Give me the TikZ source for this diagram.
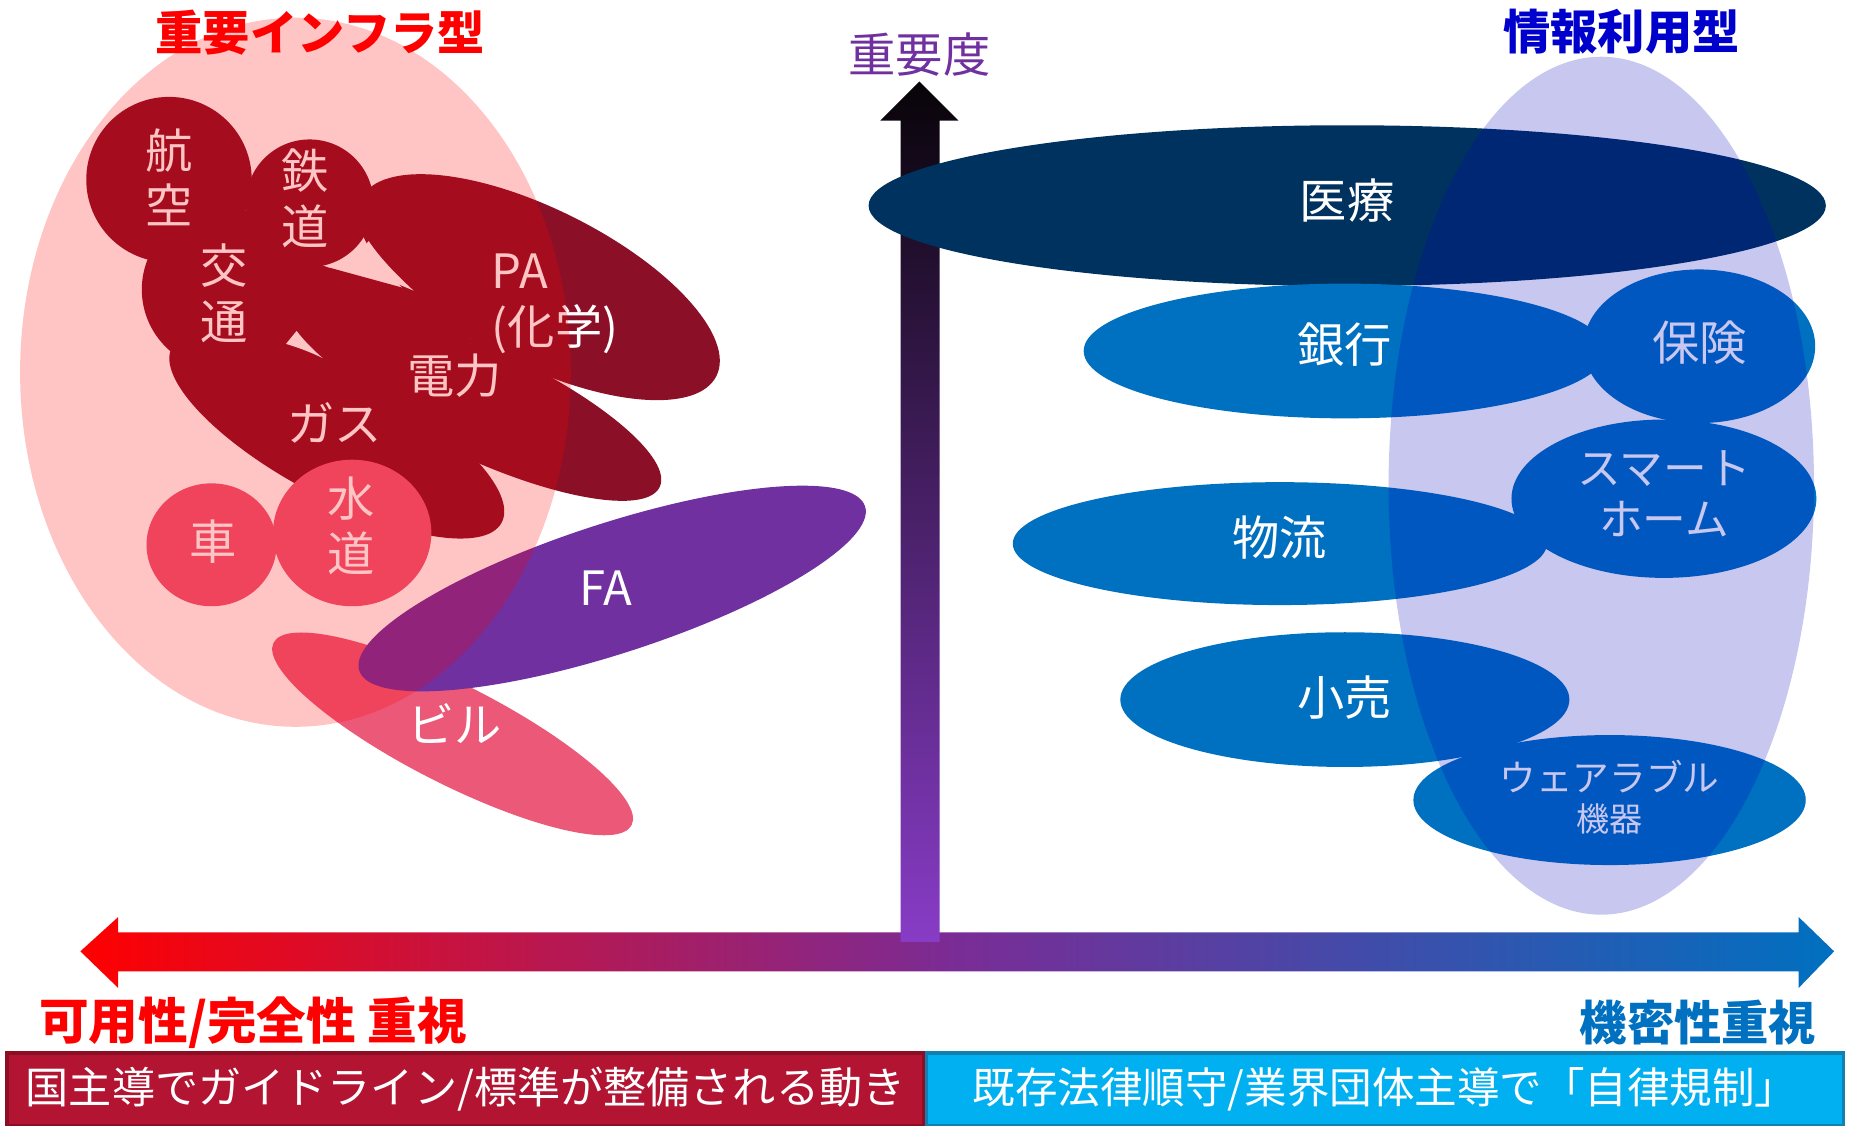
\documentclass[tikz,border=0pt]{standalone}
\usepackage{fontspec}
\setmainfont{Noto Sans CJK JP}
\definecolor{cDark}{RGB}{139,16,39}
\definecolor{cPinkBase}{RGB}{236,88,120}
\definecolor{cPurple}{RGB}{112,48,160}
\definecolor{cNavy}{RGB}{0,50,96}
\definecolor{cBlue}{RGB}{0,112,192}
\definecolor{cLav}{RGB}{0,0,188}
\definecolor{cTitleBlue}{RGB}{0,0,204}
\definecolor{cBoxL}{RGB}{178,20,50}
\definecolor{cBoxLb}{RGB}{139,14,37}
\definecolor{cBoxR}{RGB}{0,176,240}
\definecolor{cBoxRb}{RGB}{20,128,178}
\definecolor{cVtop}{RGB}{8,4,8}
\definecolor{cVbot}{RGB}{136,60,198}
\definecolor{cHmid}{RGB}{122,44,150}
\begin{document}
\begin{tikzpicture}[x=1pt,y=1pt,
  lbl/.style={text=white, inner sep=0pt, align=center, font=\fontsize{40}{47}\selectfont},
  ttl/.style={inner sep=0pt, font=\fontsize{40}{46}\selectfont\bfseries},
  boxtxt/.style={text=white, inner sep=0pt, minimum height=62pt, line width=3pt}]
\useasboundingbox (0,0) rectangle (1568,-952);
\fill[white] (0,0) rectangle (1568,-952);

% ---------- axes ----------
\shade[left color=red, right color=cBlue, middle color=cHmid]
  (68,-805) -- (100,-776) -- (100,-789) -- (1522,-789) -- (1522,-776) -- (1552,-805)
  -- (1522,-836) -- (1522,-822) -- (100,-822) -- (100,-836) -- cycle;
\shade[top color=cVtop, bottom color=cVbot]
  (762,-797) -- (762,-102) -- (745,-102) -- (778,-69) -- (811,-102) -- (795,-102) -- (795,-797) -- cycle;

% ---------- left group ----------
\fill[cDark] (143,-152) circle [radius=70pt];
\fill[cDark] (262,-172) circle [radius=54pt];
\fill[cDark] (190,-245) ellipse [x radius=70pt, y radius=69pt];
\fill[cDark, shift={(456,-243)}, rotate=-26.6] (0,0) ellipse [x radius=168pt, y radius=66pt];
\fill[cDark, shift={(406,-341)}, rotate=-25] (0,0) ellipse [x radius=168pt, y radius=47pt];
\fill[cDark, shift={(285,-368)}, rotate=-28] (0,0) ellipse [x radius=158pt, y radius=53pt];
\fill[cDark] (200,-200) -- (277,-226) -- (350,-246) -- (400,-280) -- (380,-330) -- (300,-340)
  -- (200,-320) -- (160,-280) -- cycle;
% gaps between the shapes
\fill[white] (312,-204) .. controls (302,-216) and (291,-223) .. (277,-226)
  .. controls (302,-229) and (328,-236) .. (350,-246)
  .. controls (336,-233) and (322,-219) .. (312,-204) -- cycle;
\fill[white] (251,-280) -- (242,-291) .. controls (252,-294) and (263,-298) .. (273,-303)
  .. controls (265,-296) and (257,-288) .. (251,-280) -- cycle;

\fill[cPinkBase] (179,-461) ellipse [x radius=55pt, y radius=52pt];
\fill[cPinkBase] (298,-451) ellipse [x radius=67pt, y radius=62pt];
\fill[cPinkBase, shift={(383,-621)}, rotate=-27] (0,0) ellipse [x radius=170pt, y radius=42pt];
\fill[cPurple, shift={(518,-498)}, rotate=18] (0,0) ellipse [x radius=225pt, y radius=55pt];

\node[lbl] (koku) at (143,-150) {航\\空};
\node[lbl] (tetsu) at (258,-168) {鉄\\道};
\node[lbl] (kotsu) at (190,-248) {交\\通};
\node[lbl, align=left, anchor=west] (pa) at (416,-257) {PA\\(化学)};
\node[lbl] (denryoku) at (385,-318) {電力};
\node[lbl] (gas) at (283,-358) {ガス};
\node[lbl] (kuruma) at (180,-458) {車};
\node[lbl] (suido) at (297,-445) {水\\道};
\node[lbl] (fa) at (513,-498) {FA};
\node[lbl] (biru) at (385,-612) {ビル};

\fill[red, opacity=0.23] (250,-315) ellipse [x radius=233pt, y radius=300pt];

% ---------- right group ----------
\fill[cNavy] (1140,-174) ellipse [x radius=405pt, y radius=68pt];
\fill[cBlue] (1138,-297) ellipse [x radius=221pt, y radius=57pt];
\fill[cBlue] (1438,-293) ellipse [x radius=98pt, y radius=65pt];
\fill[cBlue] (1408,-422) ellipse [x radius=129pt, y radius=67pt];
\fill[cBlue] (1083,-460) ellipse [x radius=226pt, y radius=52pt];
\fill[cBlue] (1138,-592) ellipse [x radius=190pt, y radius=57pt];
\fill[cBlue] (1362,-677) ellipse [x radius=166pt, y radius=55pt];

\node[lbl] (iryo) at (1140,-170) {医療};
\node[lbl] (ginko) at (1138,-292) {銀行};
\node[lbl] (hoken) at (1438,-290) {保険};
\node[lbl, font=\fontsize{37}{43}\selectfont] (smart) at (1408,-418) {スマート\\ホーム};
\node[lbl] (butsuryu) at (1083,-455) {物流};
\node[lbl] (kouri) at (1138,-590) {小売};
\node[lbl, font=\fontsize{31}{36}\selectfont] (wear) at (1362,-657) {ウェアラブル};
\node[lbl, font=\fontsize{28}{34}\selectfont] (kiki) at (1362,-693) {機器};

\fill[cLav, opacity=0.22] (1355,-411) ellipse [x radius=180pt, y radius=363pt];

% ---------- titles ----------
\node[ttl, text=red] (infra) at (271,-28) {重要インフラ型};
\node[ttl, text=cTitleBlue] (joho) at (1372,-27) {情報利用型};
\node[inner sep=0pt, text=cPurple, font=\fontsize{40}{46}\selectfont] (juyodo) at (778,-46) {重要度};
\node[ttl, text=red, anchor=west, font=\fontsize{42}{48}\selectfont\bfseries] (kayo) at (33,-865) {可用性/完全性 重視};
\node[ttl, text=cBlue, anchor=east] (kimitsu) at (1537,-865) {機密性重視};

% ---------- bottom boxes ----------
\node[boxtxt, fill=cBoxL, draw=cBoxLb, minimum width=776pt, font=\fontsize{36.5}{44}\selectfont] (boxL) at (394,-922) {国主導でガイドライン/標準が整備される動き};
\node[boxtxt, fill=cBoxR, draw=cBoxRb, minimum width=776pt, font=\fontsize{36}{42}\selectfont] (boxR) at (1172,-922) {既存法律順守/業界団体主導で「自律規制」};
\end{tikzpicture}
\end{document}
